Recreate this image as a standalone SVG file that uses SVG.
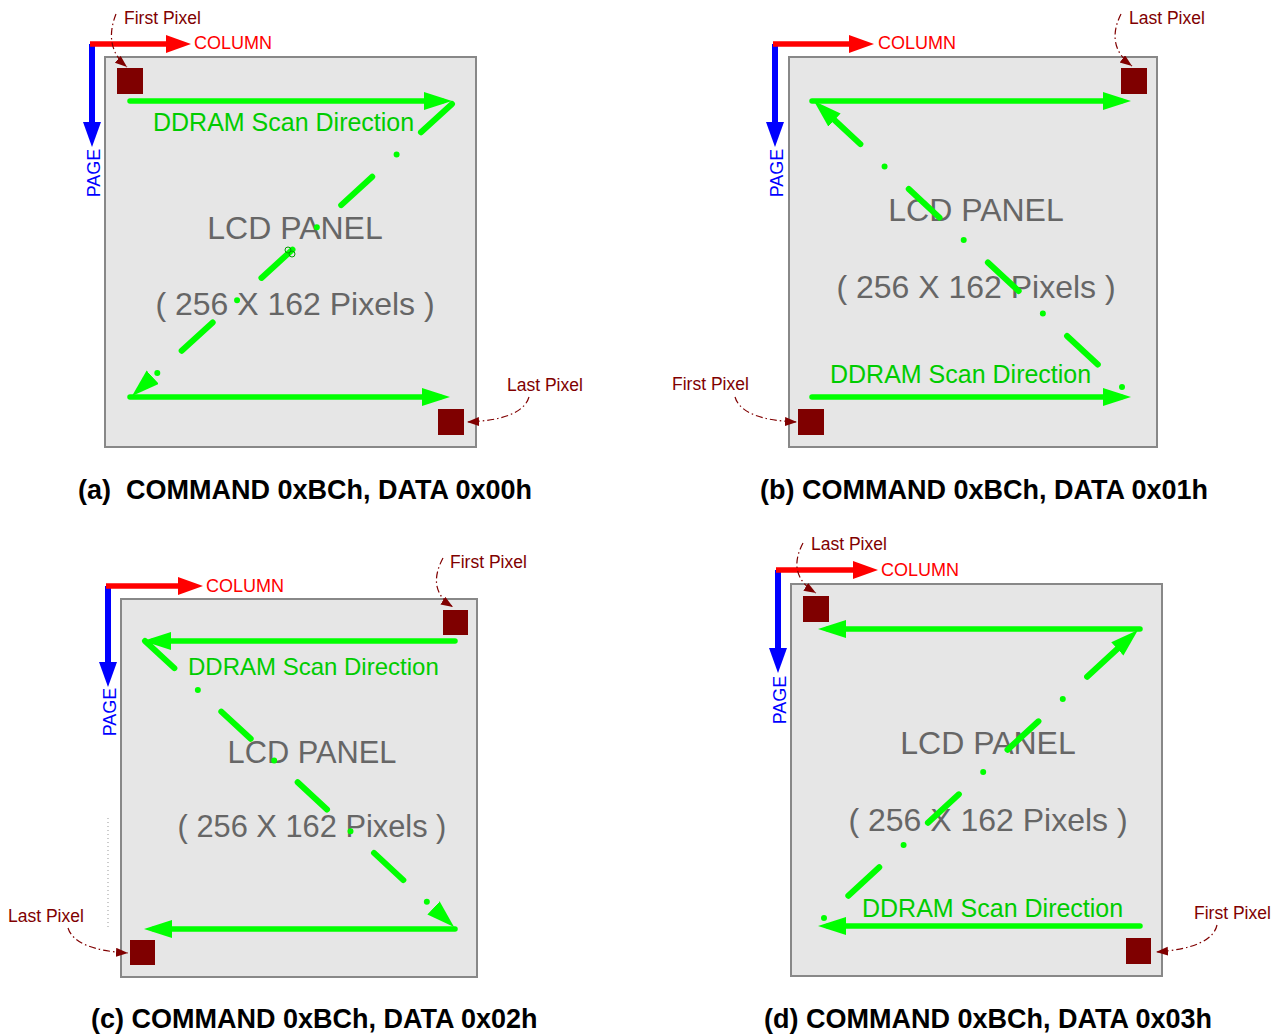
<svg xmlns="http://www.w3.org/2000/svg" width="1286" height="1035" viewBox="0 0 1286 1035">
<style>
.panel{fill:#e6e6e6;stroke:#888;stroke-width:2}
.px{fill:#7f0000}
.lcd{font-family:"Liberation Sans",Arial,sans-serif;font-size:32px;fill:#666;text-anchor:middle}
.sm{font-size:30.8px}
.ddr{font-family:"Liberation Sans",Arial,sans-serif;font-size:25px;fill:#00cc00}
.ddrs{font-size:24px}
.col{font-family:"Liberation Sans",Arial,sans-serif;font-size:18px;fill:#ff0000}
.pg{font-family:"Liberation Sans",Arial,sans-serif;font-size:18px;fill:#0000ff;text-anchor:middle}
.lbl{font-family:"Liberation Sans",Arial,sans-serif;font-size:17.5px;fill:#800000}
.cap{font-family:"Liberation Sans",Arial,sans-serif;font-size:27px;font-weight:bold;fill:#000}
.red{stroke:#ff0000;stroke-width:5.5;fill:none;marker-end:url(#rArr)}
.blue{stroke:#0000ff;stroke-width:6;fill:none;marker-end:url(#bArr)}
.gl{stroke:#00ff00;stroke-width:5.5;fill:none;stroke-linecap:round;marker-end:url(#gArr)}
.gd{stroke:#00ff00;stroke-width:6;fill:none;stroke-linecap:round;marker-end:url(#gArr)}
.ptr{stroke:#800000;stroke-width:1.2;fill:none;stroke-dasharray:7 3 1.5 3;marker-end:url(#pArr)}
</style>
<defs>
<marker id="rArr" markerUnits="userSpaceOnUse" markerWidth="30" markerHeight="20" refX="4" refY="9" orient="auto"><path d="M0,0 L25,9 L0,18 z" fill="#ff0000"/></marker>
<marker id="bArr" markerUnits="userSpaceOnUse" markerWidth="30" markerHeight="20" refX="4" refY="9" orient="auto"><path d="M0,0 L25,9 L0,18 z" fill="#0000ff"/></marker>
<marker id="gArr" markerUnits="userSpaceOnUse" markerWidth="30" markerHeight="20" refX="18" refY="9" orient="auto"><path d="M0,0 L28,9 L0,18 z" fill="#00ff00"/></marker>
<marker id="pArr" markerUnits="userSpaceOnUse" markerWidth="14" markerHeight="10" refX="12" refY="4.5" orient="auto"><path d="M0,0 L12,4.5 L0,9 z" fill="#800000"/></marker>
</defs>
<rect width="1286" height="1035" fill="#fff"/>

<g id="panel-a">
<rect class="panel" x="105" y="57" width="371" height="390"/>
<text class="lcd" x="295" y="239">LCD PANEL</text>
<text class="lcd" x="295" y="315">( 256 X 162 Pixels )</text>
<text class="ddr" x="153" y="131">DDRAM Scan Direction</text>
<text class="col" x="194" y="49">COLUMN</text>
<text class="pg" transform="translate(100,173) rotate(-90)">PAGE</text>
<rect id="a-first" class="px" x="117" y="68" width="26" height="26"/>
<rect id="a-last" class="px" x="438" y="409" width="26" height="26"/>
<text class="lbl" x="124" y="24">First Pixel</text>
<text class="lbl" x="507" y="391">Last Pixel</text>
<text class="cap" x="78" y="499" xml:space="preserve">(a)  COMMAND 0xBCh, DATA 0x00h</text>
</g>

<g id="panel-b">
<rect class="panel" x="789" y="57" width="368" height="390"/>
<text class="lcd" x="976" y="221">LCD PANEL</text>
<text class="lcd" x="976" y="298">( 256 X 162 Pixels )</text>
<text class="ddr" x="830" y="383">DDRAM Scan Direction</text>
<text class="col" x="878" y="49">COLUMN</text>
<text class="pg" transform="translate(783,173) rotate(-90)">PAGE</text>
<rect id="b-last" class="px" x="1121" y="68" width="26" height="26"/>
<rect id="b-first" class="px" x="798" y="409" width="26" height="26"/>
<text class="lbl" x="1129" y="24">Last Pixel</text>
<text class="lbl" x="672" y="390">First Pixel</text>
<text class="cap" x="760" y="499">(b) COMMAND 0xBCh, DATA 0x01h</text>
</g>

<g id="panel-c">
<rect class="panel" x="121" y="599" width="356" height="378"/>
<text class="lcd sm" x="312" y="763">LCD PANEL</text>
<text class="lcd sm" x="312" y="837">( 256 X 162 Pixels )</text>
<text class="ddr ddrs" x="188" y="675">DDRAM Scan Direction</text>
<text class="col" x="206" y="592">COLUMN</text>
<text class="pg" transform="translate(116,712) rotate(-90)">PAGE</text>
<rect id="c-first" class="px" x="443" y="610" width="25" height="25"/>
<rect id="c-last" class="px" x="130" y="940" width="25" height="25"/>
<text class="lbl" x="450" y="568">First Pixel</text>
<text class="lbl" x="8" y="922">Last Pixel</text>
<line x1="108" y1="818" x2="108" y2="929" stroke="#999" stroke-width="1" stroke-dasharray="1 3"/>
<text class="cap" x="91" y="1028">(c) COMMAND 0xBCh, DATA 0x02h</text>
</g>

<g id="panel-d">
<rect class="panel" x="791" y="584" width="371" height="392"/>
<text class="lcd" x="988" y="754">LCD PANEL</text>
<text class="lcd" x="988" y="831">( 256 X 162 Pixels )</text>
<text class="ddr" x="862" y="917">DDRAM Scan Direction</text>
<text class="col" x="881" y="576">COLUMN</text>
<text class="pg" transform="translate(786,700) rotate(-90)">PAGE</text>
<rect id="d-last" class="px" x="803" y="596" width="26" height="26"/>
<rect id="d-first" class="px" x="1126" y="938" width="25" height="26"/>
<text class="lbl" x="811" y="550">Last Pixel</text>
<text class="lbl" x="1194" y="919">First Pixel</text>
<text class="cap" x="764" y="1028">(d) COMMAND 0xBCh, DATA 0x03h</text>
</g>

<g id="connectors">
<path class="blue" d="M92,44 V126"/>
<path class="red" d="M90,44 H170"/>
<path class="blue" d="M775,44 V126"/>
<path class="red" d="M773,44 H853"/>
<path class="blue" d="M108,586 V666"/>
<path class="red" d="M106,586 H182"/>
<path class="blue" d="M778,570 V652"/>
<path class="red" d="M776,570 H857"/>

<path class="gl" d="M130,101 H442"/>
<path class="gd" style="stroke-dasharray:42 33 0 33" d="M452,104 L139.4,389.3"/>
<path class="gl" d="M130,397 H440"/>
<circle cx="288" cy="250" r="3" fill="none" stroke="#00a000" stroke-width="1"/>
<circle cx="292" cy="254" r="3" fill="none" stroke="#00a000" stroke-width="1"/>

<path class="gl" d="M812,101 H1121"/>
<path class="gd" style="stroke-dasharray:0 33 42 33" d="M1122,387 L821.3,107.8"/>
<path class="gl" d="M812,397 H1121"/>

<path class="gl" d="M455,641 H153"/>
<path class="gd" style="stroke-dasharray:40 32 0 32" d="M145,641 L446.7,920.2"/>
<path class="gl" d="M455,929 H154"/>

<path class="gl" d="M1140,629 H828"/>
<path class="gd" style="stroke-dasharray:0 33 42 33" d="M824,918 L1130.6,636.8"/>
<path class="gl" d="M1140,926 H828"/>

<path class="ptr" d="M116,14 Q103,47 127,67"/>
<path class="ptr" d="M529,397 Q522,420 467,422"/>
<path class="ptr" d="M735,397 Q742,420 797,422"/>
<path class="ptr" d="M1121,14 Q1105,46 1132,66"/>
<path class="ptr" d="M443,558 Q426,590 453,607"/>
<path class="ptr" d="M68,928 Q75,950 128,953"/>
<path class="ptr" d="M803,543 Q786,575 816,593"/>
<path class="ptr" d="M1217,925 Q1212,948 1156,952"/>
</g>
</svg>
